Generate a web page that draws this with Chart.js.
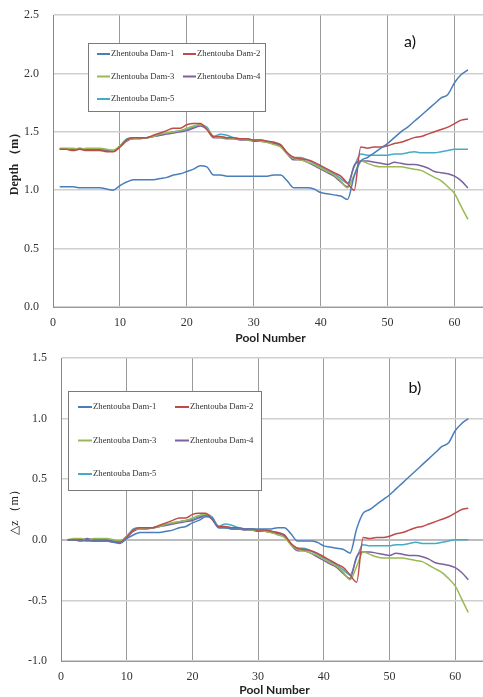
<!DOCTYPE html>
<html>
<head>
<meta charset="utf-8">
<script src="https://cdn.jsdelivr.net/npm/chart.js@4.4.0/dist/chart.umd.min.js"></script>
<style>
  html, body { margin: 0; padding: 0; background: #fff; overflow: hidden; width: 483px; height: 697px; }
  .panel { position: absolute; left: 0; width: 492px; }
  #topPanel { top: 0; height: 345px; }
  #botPanel { top: 345px; height: 352px; }
</style>
</head>
<body>
<div class="panel" id="topPanel"><canvas id="depthChart"></canvas></div>
<div class="panel" id="botPanel"><canvas id="dzChart"></canvas></div>
<script>
// Pool numbers along the reach
const poolNumbers = [1,2,3,4,5,6,7,8,9,10,11,12,13,14,15,16,17,18,19,20,21,22,23,24,25,26,27,28,29,30,31,
  32,33,34,35,36,37,38,39,40,41,42,43,44,45,46,47,48,49,50,51,52,53,54,55,56,57,58,59,60,61,62];

const damNames = ["Zhentouba Dam-1", "Zhentouba Dam-2", "Zhentouba Dam-3", "Zhentouba Dam-4", "Zhentouba Dam-5"];
const damColors = ["#4a7ebb", "#be4b48", "#98b954", "#7d60a0", "#46aac5"];

const xTickValues = [0, 10, 20, 30, 40, 50, 60];

// a) depth (m)
const depthDam1 = [1.03,1.03,1.03,1.02,1.02,1.02,1.02,1.01,1.00,1.04,1.07,1.09,1.09,1.09,1.09,1.10,1.11,1.13,1.14,1.16,1.18,1.21,1.20,1.13,1.13,1.12,1.12,1.12,1.12,1.12,1.12,
  1.12,1.13,1.13,1.08,1.02,1.02,1.02,1.01,0.98,0.97,0.96,0.95,0.92,1.12,1.25,1.28,1.32,1.36,1.40,1.45,1.50,1.54,1.59,1.64,1.69,1.74,1.79,1.82,1.92,1.99,2.03];
const depthDam2 = [1.35,1.35,1.34,1.35,1.34,1.34,1.34,1.33,1.33,1.37,1.43,1.45,1.45,1.45,1.47,1.49,1.51,1.53,1.53,1.56,1.57,1.57,1.52,1.46,1.46,1.45,1.45,1.44,1.44,1.43,1.43,
  1.42,1.41,1.39,1.32,1.28,1.27,1.26,1.24,1.21,1.18,1.15,1.12,1.06,1.00,1.37,1.36,1.37,1.37,1.38,1.40,1.41,1.43,1.45,1.46,1.48,1.50,1.52,1.54,1.57,1.60,1.61];
const depthDam3 = [1.36,1.36,1.36,1.35,1.36,1.36,1.36,1.35,1.34,1.38,1.43,1.44,1.45,1.45,1.46,1.48,1.49,1.50,1.51,1.53,1.55,1.56,1.53,1.46,1.45,1.45,1.44,1.44,1.43,1.43,1.42,
  1.41,1.39,1.37,1.31,1.27,1.26,1.24,1.22,1.19,1.16,1.13,1.08,1.02,1.13,1.25,1.23,1.21,1.20,1.20,1.20,1.20,1.19,1.18,1.17,1.14,1.11,1.08,1.03,0.97,0.86,0.75];
const depthDam4 = [1.35,1.35,1.35,1.36,1.35,1.35,1.35,1.34,1.34,1.37,1.42,1.44,1.44,1.45,1.46,1.47,1.48,1.49,1.50,1.51,1.53,1.55,1.52,1.45,1.45,1.44,1.44,1.43,1.43,1.42,1.42,
  1.41,1.40,1.38,1.31,1.26,1.26,1.24,1.21,1.18,1.15,1.12,1.07,1.03,1.21,1.25,1.25,1.24,1.23,1.22,1.24,1.23,1.22,1.22,1.21,1.19,1.16,1.15,1.14,1.12,1.08,1.02];
const depthDam5 = [1.35,1.35,1.35,1.35,1.35,1.35,1.35,1.34,1.34,1.38,1.44,1.45,1.45,1.45,1.46,1.47,1.49,1.50,1.51,1.52,1.54,1.56,1.54,1.46,1.48,1.47,1.45,1.44,1.44,1.43,1.43,
  1.42,1.41,1.39,1.32,1.28,1.28,1.26,1.23,1.20,1.17,1.14,1.10,1.06,1.20,1.31,1.30,1.30,1.30,1.30,1.31,1.31,1.32,1.33,1.32,1.32,1.32,1.33,1.34,1.35,1.35,1.35];

// b) water level change dz (m)
const dzDam1 = [0,0,0,-0.01,-0.01,-0.01,-0.01,-0.02,-0.03,0.01,0.04,0.06,0.06,0.06,0.06,0.07,0.08,0.10,0.11,0.14,0.16,0.19,0.18,0.10,0.10,0.09,0.09,0.09,0.09,0.09,0.09,
  0.09,0.10,0.10,0.05,-0.01,-0.01,-0.01,-0.02,-0.05,-0.06,-0.07,-0.08,-0.11,0.09,0.22,0.25,0.29,0.33,0.37,0.42,0.47,0.52,0.57,0.62,0.67,0.72,0.77,0.80,0.90,0.96,1.00];
const dzDam2 = [0,0,-0.01,0,-0.01,-0.01,-0.01,-0.02,-0.02,0.02,0.08,0.10,0.10,0.10,0.12,0.14,0.16,0.18,0.18,0.21,0.22,0.22,0.17,0.11,0.11,0.10,0.10,0.09,0.09,0.08,0.08,
  0.07,0.06,0.04,-0.03,-0.07,-0.08,-0.09,-0.11,-0.14,-0.17,-0.20,-0.23,-0.29,-0.35,0.02,0.01,0.02,0.02,0.03,0.05,0.06,0.08,0.10,0.11,0.13,0.15,0.17,0.19,0.22,0.25,0.26];
const dzDam3 = [0,0.01,0.01,0,0.01,0.01,0.01,0,-0.01,0.03,0.08,0.09,0.10,0.10,0.11,0.13,0.14,0.15,0.16,0.18,0.20,0.21,0.18,0.11,0.10,0.10,0.09,0.09,0.08,0.08,0.07,
  0.06,0.04,0.02,-0.04,-0.08,-0.09,-0.11,-0.13,-0.16,-0.19,-0.22,-0.27,-0.33,-0.22,-0.10,-0.12,-0.14,-0.15,-0.15,-0.15,-0.15,-0.16,-0.17,-0.18,-0.21,-0.24,-0.27,-0.32,-0.38,-0.49,-0.60];
const dzDam4 = [0,0,0,0.01,0,0,0,-0.01,-0.01,0.02,0.07,0.09,0.09,0.10,0.11,0.12,0.13,0.14,0.15,0.16,0.18,0.20,0.17,0.10,0.10,0.09,0.09,0.08,0.08,0.07,0.07,
  0.06,0.05,0.03,-0.04,-0.09,-0.09,-0.11,-0.14,-0.17,-0.20,-0.23,-0.28,-0.32,-0.14,-0.10,-0.10,-0.11,-0.12,-0.13,-0.11,-0.12,-0.13,-0.13,-0.14,-0.16,-0.19,-0.20,-0.21,-0.23,-0.27,-0.33];
const dzDam5 = [0,0,0,0,0,0,0,-0.01,-0.01,0.03,0.09,0.10,0.10,0.10,0.11,0.12,0.14,0.15,0.16,0.17,0.19,0.21,0.19,0.11,0.13,0.12,0.10,0.09,0.09,0.08,0.08,
  0.07,0.06,0.04,-0.03,-0.07,-0.07,-0.09,-0.12,-0.15,-0.18,-0.21,-0.25,-0.29,-0.15,-0.04,-0.05,-0.05,-0.05,-0.05,-0.04,-0.04,-0.03,-0.02,-0.03,-0.03,-0.03,-0.02,-0.01,0,0,0];

// Legend box + panel tag drawn inside the plot area
const insideLegend = {
    id: "insideLegend",
    afterDraw(chart, args, o) {
        const ctx = chart.ctx;
        ctx.save();
        ctx.fillStyle = "#fff";
        ctx.fillRect(o.x, o.y, o.w, o.h);
        ctx.strokeStyle = "#7a7a7a";
        ctx.lineWidth = 1;
        ctx.strokeRect(o.x + 0.5, o.y + 0.5, o.w, o.h);
        ctx.font = '8.7px "Liberation Serif"';
        ctx.textBaseline = "middle";
        chart.data.datasets.forEach((ds, i) => {
            const lx = o.x + o.padX + (i % 2) * o.colW;
            const ly = o.y + o.padY + Math.floor(i / 2) * o.rowH;
            ctx.strokeStyle = ds.borderColor;
            ctx.lineWidth = 2;
            ctx.beginPath();
            ctx.moveTo(lx, ly);
            ctx.lineTo(lx + o.lineW, ly);
            ctx.stroke();
            ctx.fillStyle = "#333";
            ctx.fillText(ds.label, lx + o.lineW + 1, ly);
        });
        ctx.font = '16px Lato';
        ctx.fillStyle = "#111";
        ctx.textAlign = "center";
        ctx.fillText(o.tag, o.tagX, o.tagY);
        ctx.restore();
    }
};

function makeChart(canvasId, series, yMin, yMax, yTitle, yTitleBold, yWidth, xHeight, topPad, legendOpts) {
    const datasets = series.map((vals, i) => ({
        label: damNames[i],
        data: poolNumbers.map((p, k) => ({ x: p, y: vals[k] })),
        borderColor: damColors[i],
        backgroundColor: damColors[i],
        borderWidth: 1.5,
        pointRadius: 0,
        cubicInterpolationMode: "monotone",
        fill: false
    }));
    return new Chart(document.getElementById(canvasId), {
        type: "line",
        data: { datasets },
        options: {
            responsive: true,
            maintainAspectRatio: false,
            animation: false,
            layout: { padding: { top: topPad, right: 4, left: 0, bottom: 0 } },
            plugins: {
                legend: { display: false },
                tooltip: { enabled: false },
                insideLegend: legendOpts
            },
            scales: {
                x: {
                    type: "linear",
                    min: 0,
                    max: 65,
                    afterBuildTicks: s => { s.ticks = xTickValues.map(v => ({ value: v })); },
                    afterFit: s => { s.height = xHeight; s.paddingLeft = 0; s.paddingRight = 0; },
                    grid: { color: "#9a9a9a", lineWidth: 1, drawTicks: false },
                    border: { color: "#9a9a9a" },
                    ticks: { color: "#333", padding: 9, font: { family: "Liberation Serif", size: 12 } },
                    title: {
                        display: true, text: "Pool Number", color: "#222",
                        padding: { top: 2, bottom: 0 },
                        font: { family: "Lato", size: 12, weight: "bold" }
                    }
                },
                y: {
                    min: yMin,
                    max: yMax,
                    ticks: {
                        stepSize: 0.5, color: "#333", padding: 14,
                        font: { family: "Liberation Serif", size: 12 },
                        callback: v => v.toFixed(1)
                    },
                    afterFit: s => { s.width = yWidth; s.paddingTop = 0; s.paddingBottom = 0; },
                    grid: {
                        color: c => (c.tick && c.tick.value === 0 && yMin < 0) ? "#bdbdbd" : "#cfcfcf",
                        lineWidth: c => (c.tick && c.tick.value === 0 && yMin < 0) ? 2 : 1.5,
                        drawTicks: false
                    },
                    border: { color: "#888", width: 1 },
                    title: {
                        display: true, text: yTitle, color: "#222",
                        padding: { top: 8, bottom: 0 },
                        font: { family: "Liberation Serif", size: 12, weight: yTitleBold ? "bold" : "normal" }
                    }
                }
            }
        },
        plugins: [insideLegend]
    });
}

makeChart("depthChart", [depthDam1, depthDam2, depthDam3, depthDam4, depthDam5],
    0, 2.5, "Depth （m）", true, 53, 38, 15,
    { x: 88, y: 43, w: 177, h: 68, padX: 9, padY: 11, rowH: 22.5, colW: 86, lineW: 13, tag: "a)", tagX: 410, tagY: 42 });

makeChart("dzChart", [dzDam1, dzDam2, dzDam3, dzDam4, dzDam5],
    -1.0, 1.5, "△z （m）", false, 61, 36, 13,
    { x: 68, y: 46, w: 193, h: 99, padX: 10, padY: 16, rowH: 33.5, colW: 97, lineW: 14, tag: "b)", tagX: 415, tagY: 43 });
</script>
</body>
</html>
